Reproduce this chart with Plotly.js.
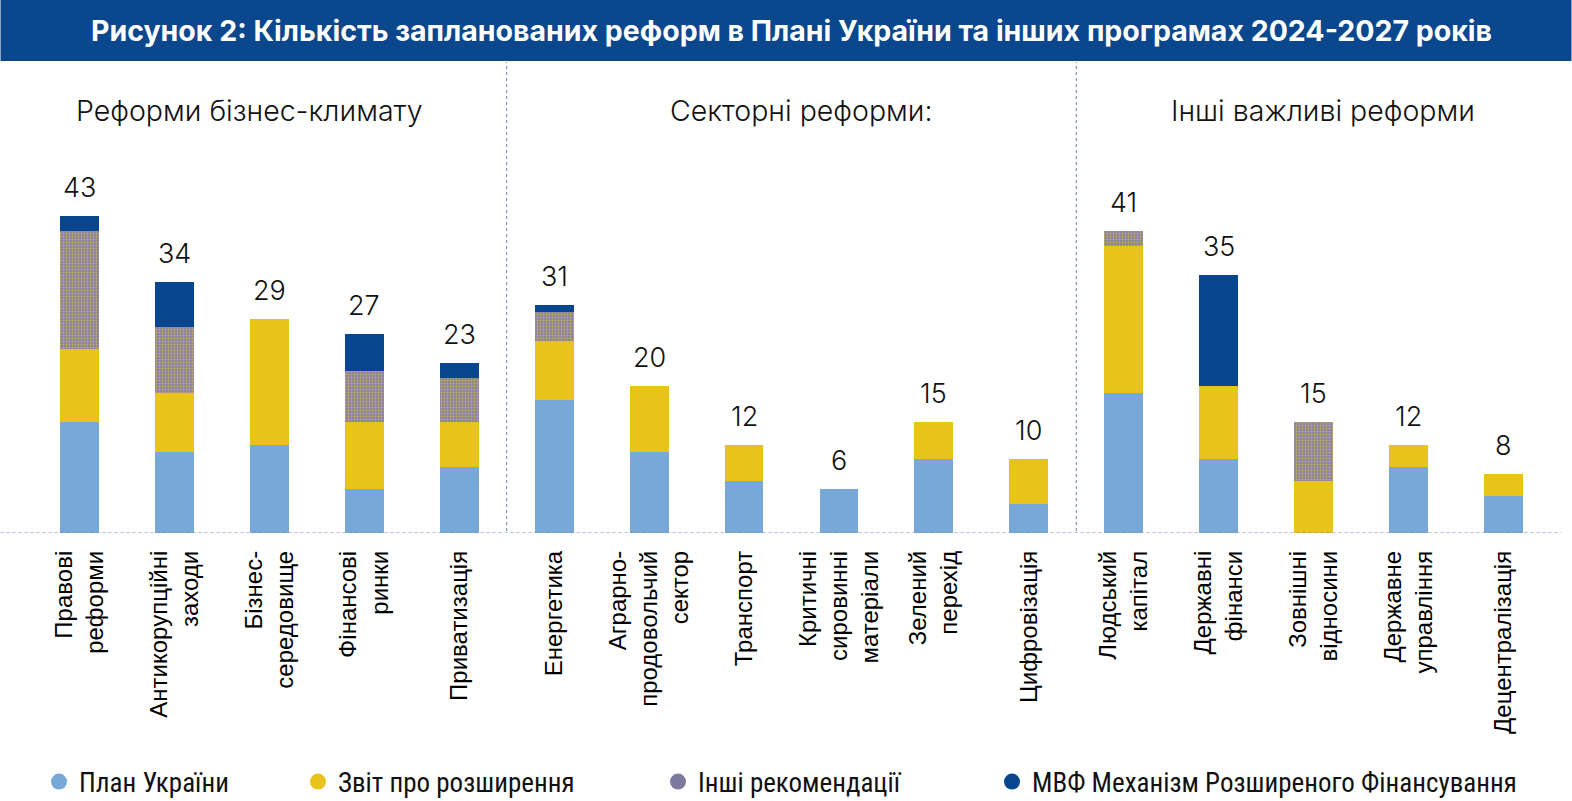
<!DOCTYPE html>
<html>
<head>
<meta charset="utf-8">
<script src="https://cdn.plot.ly/plotly-3.0.1.min.js"></script>
<style>html,body{margin:0;padding:0;background:#fff;}#chart{width:1572px;height:801px;}</style>
</head>
<body>
<div id="chart"></div>
<script>
// ---- data ----
var categories = [
  "Правові<br>реформи", "Антикорупційні<br>заходи", "Бізнес-<br>середовище", "Фінансові<br>ринки", "Приватизація",
  "Енергетика", "Аграрно-<br>продовольчий<br>сектор", "Транспорт", "Критичні<br>сировинні<br>матеріали", "Зелений<br>перехід", "Цифровізація",
  "Людський<br>капітал", "Державні<br>фінанси", "Зовнішні<br>відносини", "Державне<br>управління", "Децентралізація"
];
var planUkrainy   = [15, 11, 12, 6, 9,  18, 11, 7, 6, 10, 4,  19, 10, 0, 9, 5];
var zvitRozshyr   = [10,  8, 17, 9, 6,   8,  9, 5, 0,  5, 6,  20, 10, 7, 3, 3];
var inshiRekom    = [16,  9,  0, 7, 6,   4,  0, 0, 0,  0, 0,   2,  0, 8, 0, 0];
var mvfMekhanizm  = [ 2,  6,  0, 5, 2,   1,  0, 0, 0,  0, 0,   0, 15, 0, 0, 0];
var seriesNames = ["План України", "Звіт про розширення", "Інші рекомендації", "МВФ Механізм Розширеного Фінансування"];
var groupTitles = ["Реформи бізнес-климату", "Секторні реформи:", "Інші важливі реформи"];
var chartTitle = "Рисунок 2: Кількість запланованих реформ в Плані України та інших програмах 2024-2027 років";

// ---- styling ----
var C_BLUE = "#78a8d7", C_YEL = "#e8c31b", C_GRAY = "#8b84a2", C_NAVY = "#07468e";
var W = 1572, H = 801, ML = 31.5, MR = 20.5, MT = 76, MB = 268;
var PW = W - ML - MR, PH = H - MT - MB;
var idx = categories.map(function(_, i){ return i; });

function barTrace(y, name, color, extra) {
  var t = {type: "bar", x: idx, y: y, name: name, width: 0.41, showlegend: false,
    marker: {color: color, line: {width: 0}}, hoverinfo: "y+name"};
  if (extra) t.marker.pattern = extra;
  return t;
}
var traces = [
  barTrace(planUkrainy, seriesNames[0], C_BLUE),
  barTrace(zvitRozshyr, seriesNames[1], C_YEL),
  barTrace(inshiRekom, seriesNames[2], C_GRAY, {shape: ".", bgcolor: "#8a84a4", fgcolor: "#c6ac58", size: 3, solidity: 0.3, fillmode: "replace"}),
  barTrace(mvfMekhanizm, seriesNames[3], C_NAVY)
];
// legend-only traces (circles)
var legColors = [C_BLUE, C_YEL, "#7d7a9e", C_NAVY];
var legKeys = ["legend", "legend2", "legend3", "legend4"];
seriesNames.forEach(function(n, i){
  traces.push({type: "scatter", mode: "markers", x: [null], y: [null], name: n, legend: legKeys[i],
    marker: {symbol: "circle", size: 20, color: legColors[i]}, showlegend: true, hoverinfo: "skip"});
});

var totals = idx.map(function(i){ return planUkrainy[i] + zvitRozshyr[i] + inshiRekom[i] + mvfMekhanizm[i]; });
var annotations = totals.map(function(t, i){
  return {x: i, y: t, xref: "x", yref: "y", text: String(t), showarrow: false, yanchor: "bottom", yshift: 10,
    font: {family: "Inter, 'Noto Sans', sans-serif", size: 27, color: "#111", weight: 300}};
});
var groupCenters = [1.79, 7.6, 13.1];
groupTitles.forEach(function(g, i){
  annotations.push({x: groupCenters[i], xref: "x", y: (533 - 110) / PH, yref: "paper", text: g, showarrow: false,
    xanchor: "center", yanchor: "middle", font: {family: "Inter, 'Noto Sans', sans-serif", size: 28.5, color: "#111", weight: 300}});
});

function py(pixY){ return (H - MB - pixY) / PH; }
function px(pixX){ return (pixX - ML) / PW; }
var dotCol = "#6f7fae";
var shapes = [
  {type: "rect", xref: "paper", yref: "paper", x0: px(0), x1: px(W), y0: py(61), y1: py(0), fillcolor: "#0a478c", line: {width: 0}, layer: "below"},
  {type: "line", xref: "x", yref: "paper", x0: 4.5, x1: 4.5, y0: py(531), y1: py(62), line: {color: dotCol, width: 1, dash: "dot"}},
  {type: "line", xref: "x", yref: "paper", x0: 10.5, x1: 10.5, y0: py(531), y1: py(62), line: {color: dotCol, width: 1, dash: "dot"}},
  {type: "line", xref: "paper", yref: "y", x0: px(0), x1: px(1562), y0: 0, y1: 0, line: {color: dotCol, width: 1, dash: "dot"}, layer: "above"}
];

var legPos = [39, 298, 658, 992];
var legFont = {family: "'Roboto Condensed', 'Liberation Sans Narrow', Roboto, sans-serif", size: 27, color: "#111"};
var layout = {
  width: W, height: H,
  margin: {l: ML, r: MR, t: MT, b: MB},
  paper_bgcolor: "#fff", plot_bgcolor: "#fff",
  barmode: "stack",
  title: {text: "<b>" + chartTitle + "</b>", x: 0.5, xref: "paper", xanchor: "center", y: 1 - 31 / H, yref: "container", yanchor: "middle",
    font: {family: "Inter, 'Noto Sans', sans-serif", size: 28.5, color: "#fff"}},
  xaxis: {range: [-0.5, 15.5], tickmode: "array", tickvals: idx, ticktext: categories, tickangle: -90,
    showgrid: false, zeroline: false, showline: false, ticks: "", ticklabelstandoff: 12, automargin: false,
    tickfont: {family: "'Liberation Sans', Arial, sans-serif", size: 24, color: "#000"}, fixedrange: true},
  yaxis: {range: [0, 62], visible: false, showgrid: false, zeroline: false, fixedrange: true, automargin: false},
  annotations: annotations,
  shapes: shapes,
  showlegend: true
};
legKeys.forEach(function(k, i){
  layout[k] = {x: legPos[i] / W, xref: "container", xanchor: "left", y: (H - 782) / H, yref: "container", yanchor: "middle", orientation: "h",
    font: legFont, bgcolor: "rgba(0,0,0,0)", itemsizing: "trace", itemwidth: 30, tracegroupgap: 0};
});
Plotly.newPlot("chart", traces, layout, {displayModeBar: false, staticPlot: true});
</script>
</body>
</html>
